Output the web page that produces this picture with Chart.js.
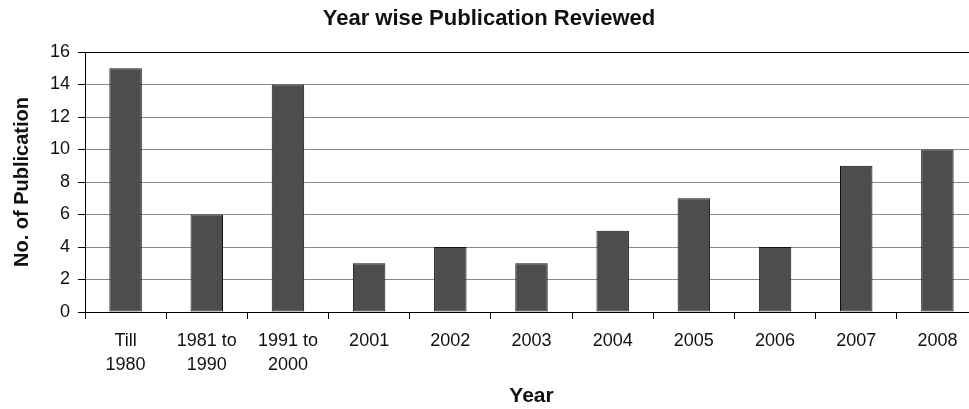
<!DOCTYPE html>
<html>
<head>
<meta charset="utf-8">
<script src="https://cdn.jsdelivr.net/npm/chart.js@4"></script>
<style>
  html, body { margin: 0; padding: 0; background: #fff; overflow: hidden; }
  #wrap { position: relative; width: 980px; height: 409px; }
</style>
</head>
<body>
<div id="wrap"><canvas id="pubChart" width="980" height="409"></canvas></div>
<script>
const categories = [['Till', '1980'], ['1981 to', '1990'], ['1991 to', '2000'], '2001', '2002', '2003', '2004', '2005', '2006', '2007', '2008'];
const publications = [15, 6, 14, 3, 4, 3, 5, 7, 4, 9, 10];
const yTicks = [0, 2, 4, 6, 8, 10, 12, 14, 16];

const font = 'Liberation Sans, Arial, sans-serif';

new Chart(document.getElementById('pubChart'), {
  type: 'bar',
  data: {
    labels: categories,
    datasets: [{
      label: 'No. of Publication',
      data: publications,
      backgroundColor: '#4d4d4d',
      borderColor: '#111',
      borderWidth: 1,
      borderSkipped: false,
      barPercentage: 0.4,
      categoryPercentage: 1.0
    }]
  },
  options: {
    responsive: false,
    animation: false,
    devicePixelRatio: 1,
    layout: { padding: { left: 0, right: 2, top: 0, bottom: 0 } },
    plugins: {
      legend: { display: false },
      tooltip: { enabled: false },
      title: {
        display: true,
        text: 'Year wise Publication Reviewed',
        color: '#111',
        font: { family: font, size: 22, weight: 'bold' },
        padding: { top: 6, bottom: 19.6 }
      }
    },
    scales: {
      x: {
        grid: {
          offset: true,
          drawOnChartArea: false,
          drawTicks: true,
          tickLength: 7,
          color: '#000'
        },
        border: { color: '#000', width: 1 },
        ticks: {
          color: '#111',
          font: { family: font, size: 18, lineHeight: 1.28 },
          padding: 11,
          maxRotation: 0,
          autoSkip: false
        },
        title: {
          display: true,
          text: 'Year',
          color: '#111',
          font: { family: font, size: 21, weight: 'bold' },
          padding: { top: 4, bottom: 0 }
        },
        afterFit: s => { s.height = 97; }
      },
      y: {
        min: 0,
        max: 16,
        afterBuildTicks: s => { s.ticks = yTicks.map(v => ({ value: v })); },
        grid: {
          color: ctx => ctx.tick && ctx.tick.value === 16 ? '#000' : '#8a8a8a',
          tickLength: 7,
          tickColor: '#000'
        },
        border: { color: '#000', width: 1 },
        ticks: {
          color: '#111',
          font: { family: font, size: 18 },
          padding: 8
        },
        title: {
          display: true,
          text: 'No. of Publication',
          color: '#111',
          font: { family: font, size: 20, weight: 'bold' },
          padding: { top: 10, bottom: 4 }
        },
        afterFit: s => { s.width = 85; }
      }
    }
  }
});
</script>
</body>
</html>
